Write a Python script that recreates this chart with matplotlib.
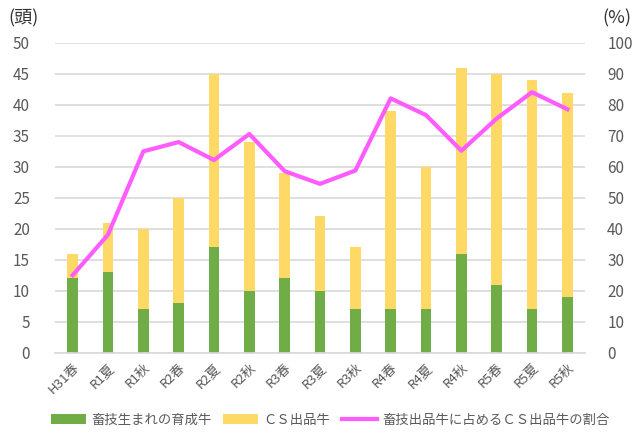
import numpy as np
import matplotlib
matplotlib.use('Agg')
from matplotlib import pyplot as plt

plt.rcParams['font.family'] = ['Noto Sans CJK JP', 'DejaVu Sans']

labels = ['H31春', 'R1夏', 'R1秋', 'R2春', 'R2夏', 'R2秋', 'R3春', 'R3夏', 'R3秋',
          'R4春', 'R4夏', 'R4秋', 'R5春', 'R5夏', 'R5秋']
own_bred = [12, 13, 7, 8, 17, 10, 12, 10, 7, 7, 7, 16, 11, 7, 9]
cs_cattle = [4, 8, 13, 17, 28, 24, 17, 12, 10, 32, 23, 30, 34, 37, 33]
cs_ratio = [25.0, 38.1, 65.0, 68.0, 62.2, 70.6, 58.6, 54.5, 58.8,
            82.1, 76.7, 65.2, 75.6, 84.1, 78.6]

green = '#70AD47'
yellow = '#FFD966'
pink = '#FF5CFF'
grey = '#595959'

fig = plt.figure(figsize=(6.44, 4.37), dpi=100)
ax = fig.add_axes([0.0854, 0.193, 0.823, 0.7087])
x = np.arange(len(labels))

b1 = ax.bar(x, own_bred, width=0.31, color=green, zorder=2, label='畜技生まれの育成牛')
b2 = ax.bar(x, cs_cattle, width=0.31, bottom=own_bred, color=yellow, zorder=2, label='ＣＳ出品牛')

ax.set_ylim(0, 50)
ax.set_yticks(range(0, 51, 5))
ax.set_xlim(-0.5, len(labels) - 0.5)
ax.yaxis.grid(True, color='#D9D9D9', linewidth=1.2, zorder=0)
ax.set_axisbelow(True)
for s in ['top', 'right', 'left']:
    ax.spines[s].set_visible(False)
ax.spines['bottom'].set_color('#D9D9D9')
ax.spines['bottom'].set_linewidth(1.2)
ax.tick_params(axis='both', length=0, colors=grey, labelsize=11)
ax.tick_params(axis='y', pad=18)
ax.set_xticks(x)
ax.set_xticklabels(labels, rotation=45, ha='right', rotation_mode='anchor', fontsize=9.5)
ax.tick_params(axis='x', pad=6)

ax2 = ax.twinx()
l1, = ax2.plot(x, cs_ratio, color=pink, linewidth=3, zorder=3, label='畜技出品牛に占めるＣＳ出品牛の割合')
ax2.set_ylim(0, 100)
ax2.set_yticks(range(0, 101, 10))
for s in ax2.spines.values():
    s.set_visible(False)
ax2.tick_params(axis='y', length=0, colors=grey, labelsize=11, pad=16)

fig.text(0.013, 0.957, '(頭)', fontsize=13, color='#333333', va='center')
fig.text(0.98, 0.957, '(%)', fontsize=13, color='#333333', va='center', ha='right')

fig.legend(handles=[b1, b2, l1], loc='center', bbox_to_anchor=(0.513, 0.04), ncol=3,
           frameon=False, fontsize=9.6, handlelength=2.6, handletextpad=0.4,
           columnspacing=0.9, labelcolor=grey)

fig.savefig('out.png', dpi=100)
